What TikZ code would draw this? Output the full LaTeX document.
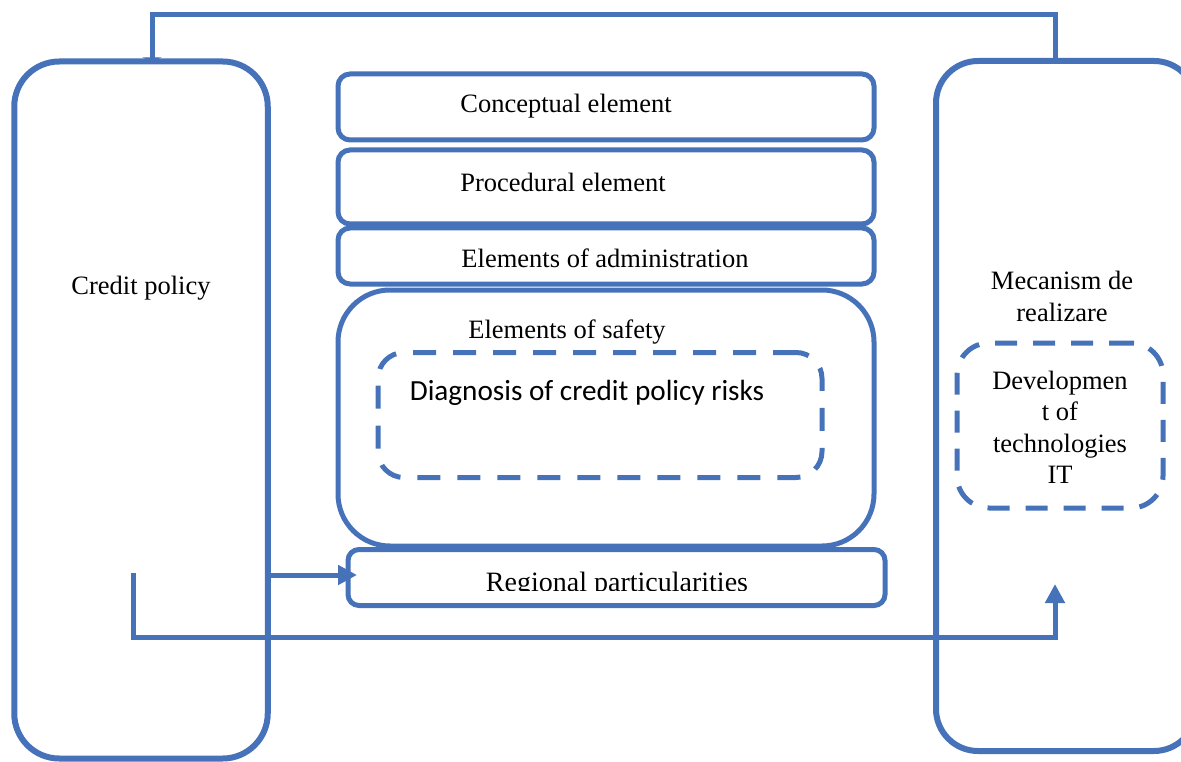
\documentclass[tikz,border=0pt]{standalone}
\usepackage{fontspec}
\setmainfont{Liberation Serif}
\newfontfamily\calibri{Carlito}
\usetikzlibrary{arrows.meta}
\definecolor{bl}{HTML}{4672BA}
\begin{document}
\begin{tikzpicture}[x=1pt,y=-1pt,
  box/.style={draw=bl, line width=5pt, rounded corners=#1, inner sep=0pt, outer sep=0pt},
  dbox/.style={draw=bl, line width=5pt, rounded corners=#1, inner sep=0pt, outer sep=0pt, dash pattern=on 23pt off 17pt},
  txt/.style={font=\fontsize{26.5}{31.5}\selectfont, inner sep=0pt, align=center},
  ctxt/.style={font=\calibri\fontsize{29.2}{34}\selectfont, inner sep=0pt},
  conn/.style={draw=bl, line width=5pt},
  tip/.style={-{Triangle[length=19pt,width=19pt]}}
]
\useasboundingbox (0,0) rectangle (1181,762);
% big side boxes
\node[box=45pt, line width=6pt, minimum width=253.5pt, minimum height=697pt] (cp) at (141,410) {};
\node[box=42pt, line width=6pt, minimum width=260pt, minimum height=690pt] (mech) at (1066,406) {};
% central boxes
\node[box=12pt, minimum width=536pt, minimum height=66pt] (conc) at (606,107) {};
\node[box=12pt, minimum width=536pt, minimum height=74pt] (proc) at (606,187) {};
\node[box=12pt, minimum width=536pt, minimum height=56pt] (adm) at (606,256) {};
\node[box=52pt, minimum width=536pt, minimum height=256pt] (safe) at (606,418) {};
\node[dbox=26pt, minimum width=444pt, minimum height=125pt] (diag) at (600,415) {};
\node[box=11pt, minimum width=537pt, minimum height=56pt] (reg) at (616.5,577.5) {};
\node[dbox=32pt, dash pattern=on 22pt off 16pt, minimum width=206pt, minimum height=165pt] (dev) at (1060,425.5) {};
% texts
\node[txt] (cpt) at (141,288.5) {Credit policy};
\node[txt] (conct) at (566,106.5) {Conceptual element};
\node[txt] (proct) at (563,182) {Procedural element};
\node[txt] (admt) at (605,258) {Elements of administration};
\node[txt] (safet) at (567,332) {Elements of safety};
\node[ctxt] (diagt) at (587,393) {Diagnosis of credit policy risks};
\begin{scope}
\clip (352,552) rectangle (881,590.5);
\node[txt, font=\fontsize{28}{33}\selectfont, anchor=base] (regt) at (617,591) {Regional particularities};
\end{scope}
\node[txt] (mecht) at (1062,296.5) {Mecanism de\\realizare};
\node[txt] (devt) at (1060,427.5) {Developmen\\t of\\technologies\\IT};
% connectors
\coordinate (t1) at (152,15);
\coordinate (t2) at (1055,15);
\draw[conn, -{Triangle[length=4pt,width=19pt]}] (mech.north -| t2) -- (t2) -- (t1) -- (cp.north -| t1);
\coordinate (a1) at (cp.east |- 0,575);
\coordinate (a2) at (357,575);
\draw[conn, tip] (a1) -- (a2);
\coordinate (b1) at (133,573);
\coordinate (b3) at (1055,637);
\coordinate (b2) at (1055,584);
\draw[conn, tip] (b1) |- (b3) -- (b2);
\end{tikzpicture}
\end{document}
